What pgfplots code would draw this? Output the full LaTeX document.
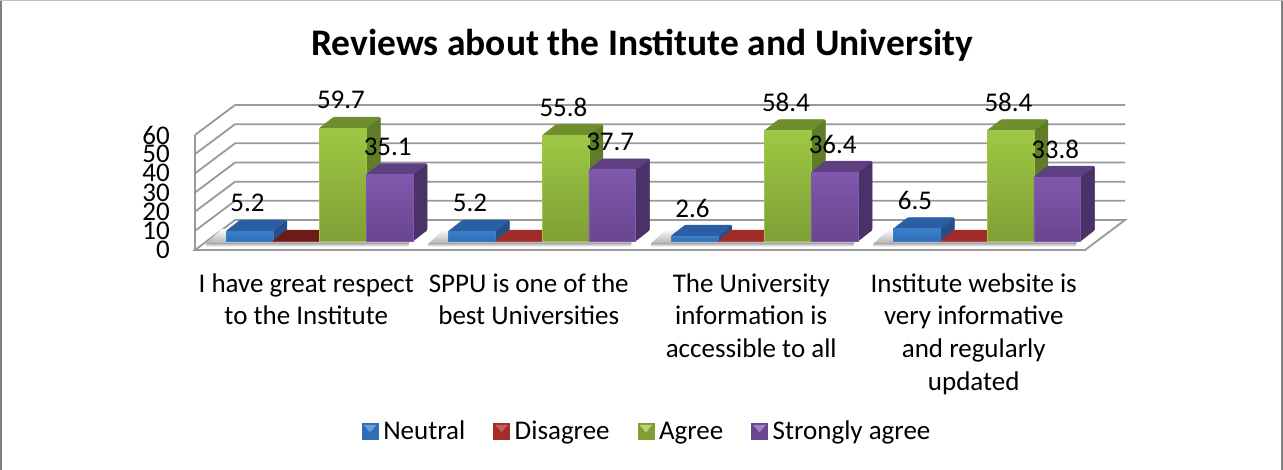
\documentclass[border=0pt]{standalone}
\usepackage{fontspec}
\setmainfont{Carlito}
\usepackage{pgfplots}
\pgfplotsset{compat=1.18}

% front top, front bottom, top face, side face
\definecolor{bluea}{HTML}{3B7FCB}\definecolor{blueb}{HTML}{2F6DB4}\definecolor{bluec}{HTML}{2A5FA5}\definecolor{blued}{HTML}{254F86}
\definecolor{reda}{HTML}{A52C2A}\definecolor{redb}{HTML}{A52C2A}\definecolor{redc}{HTML}{A02C2A}\definecolor{redd}{HTML}{6E1A18}
\definecolor{darkreda}{HTML}{7A1C1A}\definecolor{darkredb}{HTML}{7A1C1A}\definecolor{darkredc}{HTML}{701A18}\definecolor{darkredd}{HTML}{6E1A18}
\definecolor{greena}{HTML}{9DC844}\definecolor{greenb}{HTML}{7F9F35}\definecolor{greenc}{HTML}{6F8F2E}\definecolor{greend}{HTML}{5F7C27}
\definecolor{purpa}{HTML}{8058AC}\definecolor{purpb}{HTML}{6A4690}\definecolor{purpc}{HTML}{5E3F82}\definecolor{purpd}{HTML}{4A3268}
\colorlet{wall}{black!40}

% group, slot, value, colour prefix
\newcommand\dbar[4]{%
  \pgfmathsetmacro\xl{#1-0.36+#2*0.21}%
  \pgfmathsetmacro\xr{\xl+0.21}%
  \pgfmathsetmacro\xt{\xl+0.063}%
  \pgfmathsetmacro\xs{\xr+0.063}%
  \pgfmathsetmacro\yt{4.69+0.986*#3}%
  \pgfmathsetmacro\yb{\yt+5.74}%
  \edef\temp{%
    \noexpand\addplot[forget plot,fill=#4d,draw=#4d,line width=0.5pt,rounded corners=1pt]
      coordinates {(\xr,4.69) (\xs,10.43) (\xs,\yb) (\xr,\yt)} --cycle;
    \noexpand\addplot[forget plot,fill=#4c,draw=#4c,line width=0.5pt,rounded corners=1pt]
      coordinates {(\xl,\yt) (\xt,\yb) (\xs,\yb) (\xr,\yt)} --cycle;
    \noexpand\addplot[forget plot,top color=#4a,bottom color=#4b,draw=#4a,line width=0.5pt]
      coordinates {(\xl,4.69) (\xr,4.69) (\xr,\yt) (\xl,\yt)} --cycle;
  }\temp
}
% group, slot, value
\newcommand\dlabel[3]{%
  \pgfmathsetmacro\xc{#1-0.36+(#2+0.5)*0.21-0.009}%
  \pgfmathsetmacro\yc{4.69+0.986*#3+14.6}%
  \edef\temp{%
    \noexpand\addplot[forget plot,draw=none,point meta=explicit symbolic,nodes near coords,
      nodes near coords style={anchor=center,inner sep=0pt,font=\noexpand\lab}]
      coordinates {(\xc,\yc) [#3]};
  }\temp
}
% under-bar shadow of one group, slanted like the floor
\newcommand\dshadow[1]{%
  \pgfmathsetmacro\xa{#1-0.45}%
  \pgfmathsetmacro\xb{#1+0.46}%
  \pgfmathsetmacro\xc{#1-0.38}%
  \pgfmathsetmacro\xd{#1+0.53}%
  \edef\temp{%
    \noexpand\addplot[forget plot,draw=none,top color=white,bottom color=black!30]
      coordinates {(\xa,3.4) (\xb,3.4) (\xd,11) (\xc,11)} --cycle;
    \noexpand\addplot[forget plot,draw=none,top color=black!30,bottom color=white]
      coordinates {(\xa,3.4) (\xb,3.4) (\xb,1.8) (\xa,1.8)} --cycle;
  }\temp
}
\newcommand\lab{\fontsize{27}{27}\selectfont}
\newcommand\legsq[2]{\addlegendimage{legend image code/.code={
  \fill[#1b] (0pt,-8pt) rectangle (16pt,8pt);
  \fill[#1a!75!white] (2pt,6pt) -- (14pt,6pt) -- (8pt,-1pt) -- cycle;
}}\addlegendentry{#2}}

\begin{document}
\begin{tikzpicture}
\begin{axis}[
  at={(0pt,0pt)},anchor=south west,
  scale only axis,width=890pt,height=115pt,
  xmin=-0.5,xmax=3.5,ymin=0,ymax=60,
  clip=false,
  axis x line*=bottom,axis y line*=left,
  axis line style={draw=wall,line width=1.8pt,-},
  major tick length=0pt,
  xtick={0,1,2,3},
  xticklabels={{I have great respect\\to the Institute},{SPPU is one of the\\best Universities},{The University\\information is\\accessible to all},{Institute website is\\very informative\\and regularly\\updated}},
  ytick={0,10,...,60},
  xticklabel style={align=center,anchor=north,yshift=-20pt,font=\fontsize{27}{32.7}\selectfont},
  yticklabel style={anchor=east,xshift=-25pt,inner sep=0pt,font=\lab},
  /pgf/number format/assume math mode=true,
  title={Reviews about the Institute and University},
  title style={font=\fontsize{37.5}{37.5}\selectfont\bfseries,yshift=64pt,xshift=2pt},
  legend style={at={(0.508,-1.574)},anchor=center,draw=none,fill=none,legend columns=4,font=\lab,
    nodes={text height=23pt,text depth=6pt},
    /tikz/every odd column/.append style={column sep=3pt},
    /tikz/every even column/.append style={column sep=26pt}},
  legend cell align=left,
]
% floor and walls
\addplot[forget plot,fill=white,draw=wall,line width=1.8pt] coordinates {(-0.5,0) (-0.32,15.65) (3.68,15.65) (3.5,0)} --cycle;
\addplot[forget plot,draw=wall,line width=1.8pt] coordinates {(-0.5,10) (-0.32,25.65) (3.68,25.65)};
\addplot[forget plot,draw=wall,line width=1.8pt] coordinates {(-0.5,20) (-0.32,35.65) (3.68,35.65)};
\addplot[forget plot,draw=wall,line width=1.8pt] coordinates {(-0.5,30) (-0.32,45.65) (3.68,45.65)};
\addplot[forget plot,draw=wall,line width=1.8pt] coordinates {(-0.5,40) (-0.32,55.65) (3.68,55.65)};
\addplot[forget plot,draw=wall,line width=1.8pt] coordinates {(-0.5,50) (-0.32,65.65) (3.68,65.65)};
\addplot[forget plot,draw=wall,line width=1.8pt] coordinates {(-0.5,60) (-0.32,75.65) (3.68,75.65)};
\dshadow{0}\dshadow{1}\dshadow{2}\dshadow{3}
% bars: group, slot, value, colour
\dbar{0}{0}{5.2}{blue}\dbar{0}{1}{0}{darkred}\dbar{0}{2}{59.7}{green}\dbar{0}{3}{35.1}{purp}
\dbar{1}{0}{5.2}{blue}\dbar{1}{1}{0}{red}\dbar{1}{2}{55.8}{green}\dbar{1}{3}{37.7}{purp}
\dbar{2}{0}{2.6}{blue}\dbar{2}{1}{0}{red}\dbar{2}{2}{58.4}{green}\dbar{2}{3}{36.4}{purp}
\dbar{3}{0}{6.5}{blue}\dbar{3}{1}{0}{red}\dbar{3}{2}{58.4}{green}\dbar{3}{3}{33.8}{purp}
% value labels
\dlabel{0}{0}{5.2}\dlabel{0}{2}{59.7}\dlabel{0}{3}{35.1}
\dlabel{1}{0}{5.2}\dlabel{1}{2}{55.8}\dlabel{1}{3}{37.7}
\dlabel{2}{0}{2.6}\dlabel{2}{2}{58.4}\dlabel{2}{3}{36.4}
\dlabel{3}{0}{6.5}\dlabel{3}{2}{58.4}\dlabel{3}{3}{33.8}
\legsq{blue}{Neutral}
\legsq{red}{Disagree}
\legsq{green}{Agree}
\legsq{purp}{Strongly agree}
\end{axis}
% chart frame: 1 pt = 1 px of the reference, axis corner at (195,250)
\draw[black!50,line width=2pt] (-194pt,-220pt) -- (-194pt,250pt);
\draw[black!50,line width=2pt] (1087pt,-220pt) -- (1087pt,250pt);
\draw[black!25,line width=1pt] (-195pt,249.5pt) -- (1088pt,249.5pt);
\pgfresetboundingbox
\path[use as bounding box] (-195pt,-220pt) rectangle (1088pt,250pt);
\end{tikzpicture}
\end{document}
